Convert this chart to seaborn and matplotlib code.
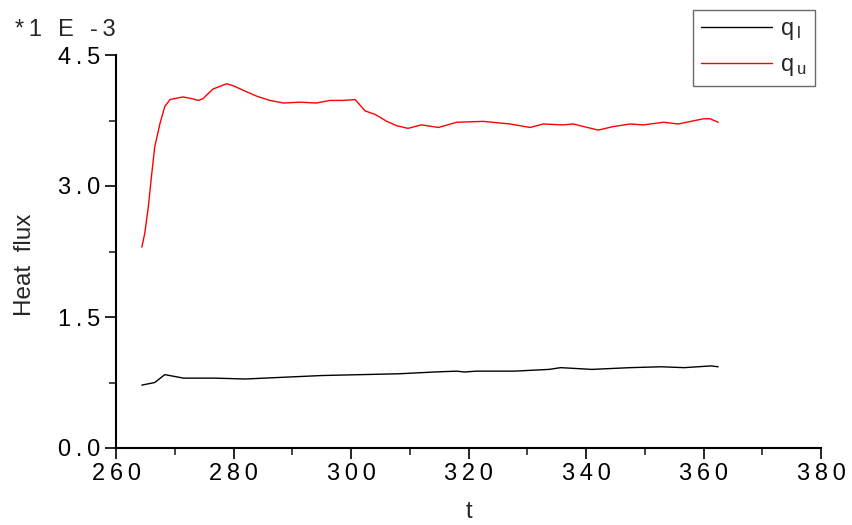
import numpy as np
import pandas as pd
import matplotlib
matplotlib.use("Agg")
import matplotlib.pyplot as plt
from matplotlib.ticker import MultipleLocator, FuncFormatter
import seaborn as sns

# Heat flux histories (values in units of 1E-3)
t_lower = [264.4, 266.6, 268.3, 271.5, 276.8, 282.0, 288.5, 295.1, 301.7, 308.2,
           314.1, 318.0, 319.3, 321.3, 327.8, 333.7, 335.7, 341.0, 347.5, 352.8,
           356.7, 361.3, 362.5]
q_lower = [0.72, 0.75, 0.84, 0.80, 0.80, 0.79, 0.81, 0.83, 0.84, 0.85,
           0.87, 0.88, 0.87, 0.88, 0.88, 0.90, 0.92, 0.90, 0.92, 0.93,
           0.92, 0.94, 0.93]

t_upper = [264.4, 264.9, 265.5, 266.1, 266.6, 267.5, 268.3, 269.2, 271.4, 272.9,
           274.0, 274.8, 276.5, 278.8, 279.9, 282.2, 283.9, 286.2, 288.5, 291.3,
           294.1, 296.4, 298.7, 300.7, 302.4, 304.1, 306.1, 307.8, 309.7, 312.0,
           314.9, 318.0, 322.5, 327.1, 330.5, 332.7, 336.1, 337.8, 342.1, 344.6,
           347.5, 349.8, 353.2, 355.7, 360.0, 361.1, 362.5]
q_upper = [2.30, 2.46, 2.76, 3.15, 3.45, 3.72, 3.91, 3.99, 4.02, 4.00,
           3.98, 4.00, 4.11, 4.17, 4.15, 4.08, 4.03, 3.98, 3.95, 3.96,
           3.95, 3.98, 3.98, 3.99, 3.86, 3.82, 3.74, 3.69, 3.66, 3.70,
           3.67, 3.73, 3.74, 3.71, 3.67, 3.71, 3.70, 3.71, 3.64, 3.68,
           3.71, 3.70, 3.73, 3.71, 3.77, 3.77, 3.73]

series_labels = [r"$\mathregular{q_{\,l}}$", r"$\mathregular{q_{\,u}}$"]
x_label = "t"
y_label = "Heat  flux"
multiplier_label = "*1 E -3"

THIN = "\u2009"


def letterspace(s):
    return THIN.join(s)


df = pd.concat([
    pd.DataFrame({"t": t_lower, "q": q_lower, "series": series_labels[0]}),
    pd.DataFrame({"t": t_upper, "q": q_upper, "series": series_labels[1]}),
], ignore_index=True)

sns.set_style("ticks")
plt.rcParams["font.family"] = ["Liberation Sans", "DejaVu Sans"]
plt.rcParams["mathtext.fontset"] = "custom"
plt.rcParams["mathtext.rm"] = "Liberation Sans"

fig = plt.figure(figsize=(8.53, 5.25), dpi=100)
ax = fig.add_axes([116 / 853, 1 - 448 / 525, (821 - 116) / 853, (448 - 55) / 525])

sns.lineplot(data=df, x="t", y="q", hue="series", sort=False,
             palette={series_labels[0]: "black", series_labels[1]: "#ff0000"},
             linewidth=1.0, ax=ax, legend=True)

ax.set_xlim(260, 380)
ax.set_ylim(0, 4.5)
ax.xaxis.set_major_locator(MultipleLocator(20))
ax.xaxis.set_minor_locator(MultipleLocator(10))
ax.yaxis.set_major_locator(MultipleLocator(1.5))
ax.yaxis.set_minor_locator(MultipleLocator(0.75))

ax.xaxis.set_major_formatter(FuncFormatter(lambda v, p: letterspace(f"{v:.0f}")))
ax.yaxis.set_major_formatter(FuncFormatter(lambda v, p: letterspace(f"{v:.1f}")))

for side in ("top", "right"):
    ax.spines[side].set_visible(False)
for side in ("left", "bottom"):
    ax.spines[side].set_linewidth(1.5)
    ax.spines[side].set_color("black")

ax.tick_params(which="major", direction="out", length=8, width=1.2,
               labelsize=17, colors="black", pad=3)
ax.tick_params(which="minor", direction="out", length=5, width=1.2)

ax.set_xlabel(x_label, fontsize=17)
ax.xaxis.set_label_coords(0.5, -0.135)
ax.set_ylabel(y_label, fontsize=17.5)
ax.yaxis.set_label_coords(-0.113, 0.466)

fig.text(15 / 853, 1 - 30 / 525, letterspace(multiplier_label), fontsize=17,
         ha="left", va="center")

leg = ax.legend(title=None, loc="upper left",
                bbox_to_anchor=(693 / 853, 1 - 10 / 525),
                bbox_transform=fig.transFigure, borderaxespad=0,
                fontsize=17, frameon=True, fancybox=False,
                edgecolor="#444444", handlelength=3.0,
                handletextpad=0.35, borderpad=0.35, labelspacing=0.5)
leg.get_frame().set_linewidth(1.0)

fig.savefig("out.png", dpi=100, facecolor="white")
